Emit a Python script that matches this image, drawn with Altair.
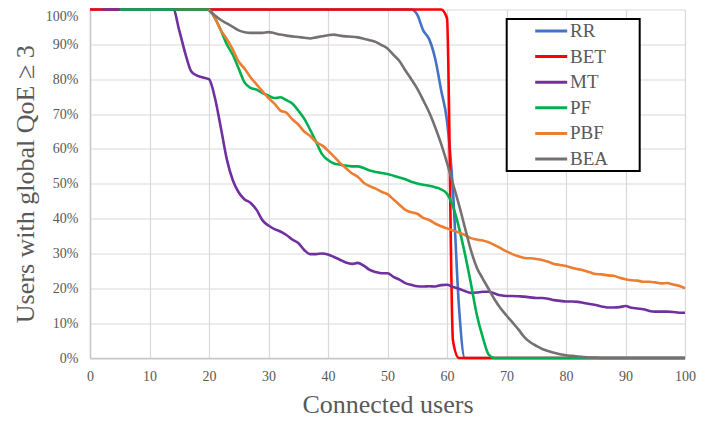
import altair as alt
import pandas as pd

series = ["RR", "BET", "MT", "PF", "PBF", "BEA"]
colors = ["#4472C4", "#FF0000", "#7030A0", "#00B050", "#ED7D31", "#767171"]

# first x value of each series (users), then one value per user (percent)
rr_start = 0
rr = [100] * 55 + [98.5, 94, 91.5, 86, 77, 68, 48, 15] + [0] * 38

bet_start = 0
bet = [100] * 60 + [97.5, 5] + [0] * 39

mt_start = 2
mt = [100] * 13 + [94, 87.5, 82.3, 81, 80.5, 80, 74.6, 66, 57, 51, 47.5, 45.5, 44.5, 42.5,
                   39.5, 38, 37, 36.3, 35.3, 34, 33, 31, 29.8, 29.8, 30, 29.7, 29, 28.2, 27.4,
                   27, 27.3, 26.5, 25.3, 24.7, 24.3, 24.3, 23.3, 22.5, 21.5, 21, 20.6, 20.5, 20.6,
                   20.5, 20.9, 21, 20.4, 19.9, 19.2, 18.7, 18.8, 19, 19, 18.5, 18, 17.8, 17.8, 17.7,
                   17.6, 17.4, 17.2, 17.2, 17, 16.6, 16.4, 16.2, 16.2, 16.1, 15.8, 15.5, 15.2, 14.8,
                   14.5, 14.5, 14.6, 14.9, 14.4, 14.2, 14, 13.5, 13.3, 13.3, 13.3, 13.2, 13, 13]

pf_start = 5
pf = [100] * 16 + [97.5, 94, 90, 87, 83, 79, 77.5, 77, 76, 75.3, 74.6, 74.8, 74, 73, 71, 68.7,
                   65.5, 62, 58.5, 56.8, 55.8, 55.5, 55.2, 55, 55, 54.5, 53.8, 53.4, 53.1, 52.8,
                   52.3, 51.8, 51.3, 50.6, 50.1, 49.7, 49.4, 49, 48.4, 47.1, 43.5, 37.5, 30, 21.5,
                   12.5, 6, 1] + [0] * 33

pbf_start = 20
pbf = [100, 97.5, 94, 91.5, 88.5, 85, 83, 80.5, 78.5, 76.5, 74.6, 73, 71, 70.4, 68.5, 67, 65,
       63.7, 62, 61, 59.5, 57.8, 56, 54.5, 53, 52, 50.3, 49.3, 48.6, 47.7, 47, 45.5, 44, 42.5,
       41.8, 41.4, 40.2, 39.6, 38.6, 37.8, 37.2, 36.6, 36, 35.3, 34.4, 34, 33.7, 33.2, 32.4, 31.5,
       30.6, 29.8, 29.2, 28.7, 28.6, 28.4, 28.1, 27.6, 27, 26.7, 26.4, 25.9, 25.5, 25.1, 24.6,
       24.1, 24, 23.7, 23.6, 23, 22.6, 22.3, 22.2, 21.9, 21.9, 21.7, 21.4, 21.5, 21.1, 20.7, 20]

bea_start = 20
bea = [99.7, 98.3, 97, 96, 95, 94, 93.5, 93.3, 93.3, 93.3, 93.5, 93.2, 92.8, 92.5, 92.3, 92.1,
       91.9, 91.7, 92, 92.3, 92.6, 92.8, 92.5, 92.3, 92.2, 92, 91.6, 91.2, 90.7, 89.8, 88.8, 87,
       85.2, 82.5, 80, 77.3, 74, 70.5, 66.3, 61.5, 56, 50, 44, 37.5, 31, 26, 22.8, 19.8, 16.8,
       14.3, 12.2, 10.2, 8.2, 6, 4.5, 3.5, 2.6, 2.0, 1.5, 1.1, 0.8, 0.6, 0.4, 0.3, 0.15, 0.1] + [0] * 15

x_ticks = list(range(0, 101, 10))
y_ticks = [i / 10 for i in range(0, 11)]

starts = [rr_start, bet_start, mt_start, pf_start, pbf_start, bea_start]
values = [rr, bet, mt, pf, pbf, bea]

rows = []
for name, start, vals in zip(series, starts, values):
    for i, v in enumerate(vals):
        rows.append({"users": start + i, "share": v / 100.0, "scheme": name})
df = pd.DataFrame(rows)

font = "Liberation Serif"
grey = "#595959"

legend = alt.Legend(
    orient="none", legendX=416.7, legendY=9.5, title=None,
    symbolType="stroke", symbolSize=1024, symbolStrokeWidth=3,
    labelFont=font, labelFontSize=19, labelColor=grey,
    padding=1, strokeColor="black", fillColor="white",
    symbolOffset=26, labelOffset=1.3, clipHeight=22, rowPadding=3.6,
    labelExpr="datum.label + '\u00a0\u00a0\u00a0\u00a0\u00a0\u00a0\u200a\u200b'",
)

x_enc = alt.X("users:Q", scale=alt.Scale(domain=[0, 100], nice=False),
              axis=alt.Axis(values=x_ticks, title="Connected users", titleFont=font,
                            titleFontSize=26, titleFontWeight="normal", titleColor=grey,
                            titleBaseline="alphabetic", titleY=54,
                            labelFont=font, labelFontSize=14, labelColor=grey,
                            labelPadding=11, labelFlush=False, ticks=False, tickSize=0,
                            grid=True, gridColor="#d9d9d9", gridWidth=1.2,
                            domainColor="#c8c8c8", domainWidth=1.5))
y_enc = alt.Y("share:Q", scale=alt.Scale(domain=[0, 1], nice=False),
              axis=alt.Axis(values=y_ticks, format=".0%", title="Users with global QoE \u2265 3",
                            titleFont=font, titleFontSize=26, titleFontWeight="normal",
                            titleColor=grey, titleBaseline="alphabetic", titleX=-57,
                            labelFont=font, labelFontSize=14, labelColor=grey,
                            labelPadding=12, labelFlush=False, ticks=False, tickSize=0,
                            labelOffset={"condition": {"test": "datum.value >= 1", "value": 6.5},
                                         "value": 0},
                            grid=True, gridColor="#d9d9d9", gridWidth=1.2,
                            domainColor="#c8c8c8", domainWidth=1.5))
color_enc = alt.Color("scheme:N", scale=alt.Scale(domain=series, range=colors), legend=legend)

base = alt.Chart(df).mark_line(strokeWidth=2.6, interpolate="monotone").encode(
    x=x_enc, y=y_enc, color=color_enc
)

layers = [base.transform_filter(alt.datum.scheme == s) for s in series]

chart = alt.layer(*layers).properties(
    width=595, height=348.5,
    autosize=alt.AutoSizeParams(type="none"),
    padding={"left": 82, "top": 1.5, "right": 27, "bottom": 64},
).configure_view(stroke=None).configure_legend(strokeWidth=2)

chart.save("out.html", embed_options={"renderer": "svg", "actions": False})
